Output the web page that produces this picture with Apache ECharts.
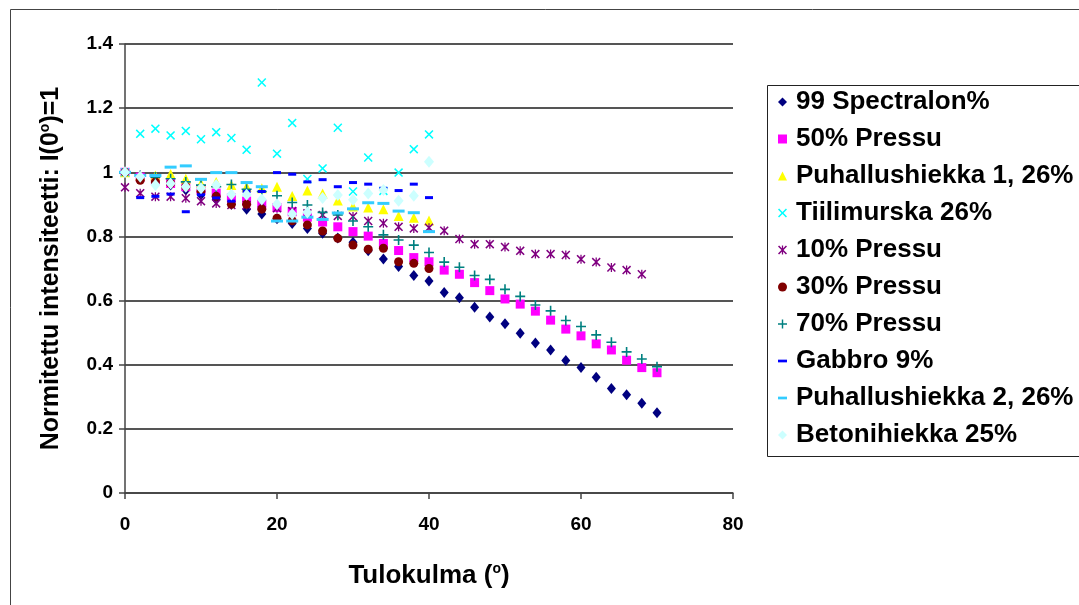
<!DOCTYPE html>
<html>
<head>
<meta charset="utf-8">
<script src="https://cdn.jsdelivr.net/npm/echarts@6/dist/echarts.min.js"></script>
<style>html,body{margin:0;padding:0;background:#fff}#c{width:1079px;height:605px}</style>
</head>
<body>
<div id="c"></div>
<script>
// ---- data ----
const seriesNames = ["99 Spectralon%", "50% Pressu", "Puhallushiekka 1, 26%", "Tiilimurska 26%", "10% Pressu", "30% Pressu", "70% Pressu", "Gabbro 9%", "Puhallushiekka 2, 26%", "Betonihiekka 25%"];
const xTicks = [0, 20, 40, 60, 80];
const yTicks = [0, 0.2, 0.4, 0.6, 0.8, 1, 1.2, 1.4];

const angles70 = [0,2,4,6,8,10,12,14,16,18,20,22,24,26,28,30,32,34,36,38,40,42,44,46,48,50,52,54,56,58,60,62,64,66,68,70];
const angles68 = [0,2,4,6,8,10,12,14,16,18,20,22,24,26,28,30,32,34,36,38,40,42,44,46,48,50,52,54,56,58,60,62,64,66,68];
const angles40 = [0,2,4,6,8,10,12,14,16,18,20,22,24,26,28,30,32,34,36,38,40];

const spectralon99 = [1.0,0.985,0.97,0.96,0.945,0.93,0.915,0.9,0.885,0.87,0.855,0.84,0.825,0.81,0.795,0.782,0.755,0.73,0.706,0.678,0.661,0.625,0.609,0.579,0.549,0.528,0.498,0.468,0.446,0.413,0.391,0.361,0.326,0.306,0.28,0.25];
const pressu50 = [1.0,0.985,0.975,0.965,0.955,0.945,0.935,0.92,0.91,0.9,0.89,0.877,0.86,0.845,0.83,0.815,0.801,0.778,0.756,0.734,0.721,0.695,0.682,0.656,0.631,0.605,0.589,0.567,0.539,0.511,0.49,0.465,0.446,0.414,0.391,0.375];
const puhallus1 = [1.0,0.99,0.99,0.995,0.98,0.965,0.97,0.96,0.955,0.95,0.955,0.926,0.943,0.934,0.912,0.893,0.89,0.885,0.864,0.858,0.85];
const tiilimurska = [1.0,1.12,1.136,1.115,1.129,1.103,1.125,1.107,1.07,1.28,1.058,1.154,0.979,1.012,1.139,0.94,1.046,0.942,0.999,1.072,1.118];
const pressu10 = [0.953,0.935,0.924,0.924,0.919,0.91,0.903,0.898,0.898,0.903,0.888,0.879,0.872,0.867,0.864,0.862,0.848,0.841,0.83,0.825,0.827,0.818,0.792,0.776,0.776,0.767,0.755,0.745,0.745,0.742,0.729,0.72,0.703,0.695,0.682];
const pressu30 = [1.0,0.975,0.97,0.965,0.955,0.94,0.925,0.9,0.9,0.885,0.857,0.849,0.836,0.817,0.794,0.773,0.76,0.763,0.721,0.716,0.70];
const pressu70 = [1.0,0.99,0.985,0.98,0.97,0.96,0.955,0.962,0.947,0.94,0.927,0.906,0.898,0.875,0.867,0.848,0.83,0.805,0.789,0.773,0.75,0.72,0.704,0.678,0.666,0.635,0.613,0.586,0.568,0.538,0.519,0.493,0.47,0.44,0.418,0.394];
const gabbro9 = [1.0,0.921,0.925,0.932,0.877,0.93,0.92,0.91,0.94,0.94,0.999,0.994,0.97,0.977,0.955,0.968,0.963,0.95,0.943,0.963,0.921];
const puhallus2 = [1.0,0.99,0.99,1.016,1.02,0.978,0.999,0.999,0.968,0.955,0.848,0.848,0.86,0.853,0.873,0.886,0.905,0.903,0.879,0.874,0.815];
const betoni25 = [1.0,0.986,0.96,0.965,0.955,0.95,0.96,0.931,0.93,0.915,0.9,0.87,0.875,0.92,0.929,0.914,0.934,0.945,0.911,0.927,1.033];

// ---- styling ----
const FONT = 'Liberation Sans';
const xMark = 'path://M0,1.2L1.2,0L5,3.8L8.8,0L10,1.2L6.2,5L10,8.8L8.8,10L5,6.2L1.2,10L0,8.8L3.8,5Z';
const starMark = 'path://M0,1.2L1.2,0L5,3.8L8.8,0L10,1.2L6.2,5L10,8.8L8.8,10L5,6.2L1.2,10L0,8.8L3.8,5Z M4.3,0L5.7,0L5.7,10L4.3,10Z';
const plusMark = 'path://M4.2,0H5.8V4.2H10V5.8H5.8V10H4.2V5.8H0V4.2H4.2Z';
const dashMark = 'path://M0,0H10V3H0Z';

function pairs(xs, ys) { return ys.map((v, i) => [xs[i], v]); }

const defs = [
  {name: seriesNames[0], xs: angles70, ys: spectralon99, color: '#000080', symbol: 'diamond', size: [9, 11], icon: 'diamond'},
  {name: seriesNames[1], xs: angles70, ys: pressu50, color: '#FF00FF', symbol: 'rect', size: 9, icon: 'rect'},
  {name: seriesNames[2], xs: angles40, ys: puhallus1, color: '#FFFF00', symbol: 'triangle', size: 10, icon: 'triangle'},
  {name: seriesNames[3], xs: angles40, ys: tiilimurska, color: '#00FFFF', symbol: xMark, size: 9, icon: xMark},
  {name: seriesNames[4], xs: angles68, ys: pressu10, color: '#800080', symbol: starMark, size: 9, icon: starMark},
  {name: seriesNames[5], xs: angles40, ys: pressu30, color: '#800000', symbol: 'circle', size: 9, icon: 'circle'},
  {name: seriesNames[6], xs: angles70, ys: pressu70, color: '#008080', symbol: plusMark, size: 10, icon: plusMark},
  {name: seriesNames[7], xs: angles40, ys: gabbro9, color: '#0000FF', symbol: 'rect', size: [8, 3], icon: dashMark},
  {name: seriesNames[8], xs: angles40, ys: puhallus2, color: '#33CCFF', symbol: 'rect', size: [12, 3], icon: dashMark},
  {name: seriesNames[9], xs: angles40, ys: betoni25, color: '#CCFFFF', symbol: 'diamond', size: [10, 12], icon: 'diamond'}
];

const chart = echarts.init(document.getElementById('c'), null, {renderer: 'canvas'});
chart.setOption({
  animation: false,
  backgroundColor: '#fff',
  grid: {left: 125, right: 346, top: 44, bottom: 112, containLabel: false},
  xAxis: {
    type: 'value', min: xTicks[0], max: xTicks[xTicks.length - 1], interval: 20,
    name: 'Tulokulma ({sup|o})', nameLocation: 'middle', nameGap: 69,
    nameTextStyle: {fontFamily: FONT, fontSize: 26, fontWeight: 'bold', color: '#000',
      rich: {sup: {fontFamily: FONT, fontSize: 14, fontWeight: 'bold', color: '#000', padding: [0, 0, 13, 0]}}},
    axisLine: {show: true, lineStyle: {color: '#444', width: 1.5}},
    axisTick: {show: true, inside: false, length: 6, lineStyle: {color: '#444', width: 1.5}},
    axisLabel: {fontFamily: FONT, fontSize: 19, fontWeight: 'bold', color: '#000', margin: 22},
    splitLine: {show: false}
  },
  yAxis: {
    type: 'value', min: yTicks[0], max: yTicks[yTicks.length - 1], interval: 0.2,
    name: 'Normitettu intensiteetti: I(0{sup|o})=1', nameLocation: 'middle', nameGap: 61,
    nameTextStyle: {fontFamily: FONT, fontSize: 25, fontWeight: 'bold', color: '#000',
      rich: {sup: {fontFamily: FONT, fontSize: 14, fontWeight: 'bold', color: '#000', padding: [0, 0, 12, 0]}}},
    axisLine: {show: true, lineStyle: {color: '#444', width: 1.5}},
    axisTick: {show: true, inside: false, length: 6, lineStyle: {color: '#444', width: 1.5}},
    axisLabel: {fontFamily: FONT, fontSize: 19, fontWeight: 'bold', color: '#000', margin: 12,
      formatter: v => String(Math.round(v * 10) / 10)},
    splitLine: {show: true, lineStyle: {color: '#555', width: 2}}
  },
  legend: {
    orient: 'vertical', left: 773, top: 84,
    itemWidth: 9, itemHeight: 9, itemGap: 11,
    textStyle: {fontFamily: FONT, fontSize: 26, fontWeight: 'bold', color: '#000', lineHeight: 23, padding: [0, 0, 0, 4]},
    data: defs.map(d => ({name: d.name, icon: d.icon, itemStyle: {color: d.color}}))
  },
  graphic: [
    {type: 'rect', left: 8, top: 7, shape: {width: 1100, height: 620}, style: {fill: 'none', stroke: '#444', lineWidth: 1}, silent: true},
    {type: 'rect', left: 765, top: 83, shape: {width: 400, height: 371}, style: {fill: 'none', stroke: '#222', lineWidth: 1}, silent: true}
  ],
  series: defs.map(d => ({
    name: d.name, type: 'scatter', data: pairs(d.xs, d.ys),
    symbol: d.symbol, symbolSize: d.size,
    itemStyle: {color: d.color, opacity: 1}
  }))
});
</script>
</body>
</html>
